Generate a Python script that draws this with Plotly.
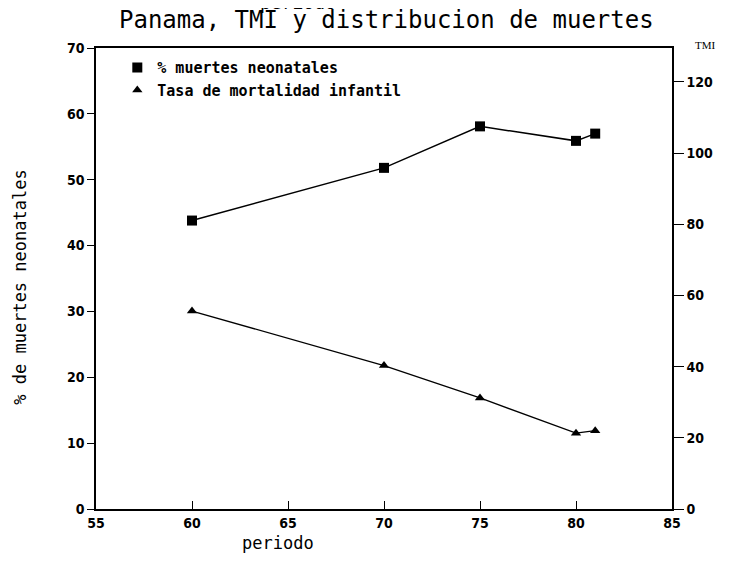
"""Panama: infant mortality rate and share of neonatal deaths."""

import plotly.graph_objects as go

periodo = [60, 70, 75, 80, 81]
neonatales = [43.8, 51.8, 58.1, 55.9, 57.0]   # % muertes neonatales (left axis)
tmi = [55.6, 40.3, 31.2, 21.3, 22.0]          # tasa de mortalidad infantil (right axis)

x_ticks = [55, 60, 65, 70, 75, 80, 85]
tmi_ticks = [0, 20, 40, 60, 80, 100, 120]

mono = "DejaVu Sans Mono"
narrow = "DejaVu Sans Condensed, Liberation Sans Narrow"
tick_font = dict(family=narrow, size=14, color="black", weight="bold")

fig = go.Figure()

# lines (no legend) + markers (legend only shows the symbol)
fig.add_trace(go.Scatter(x=periodo, y=neonatales, mode="lines", showlegend=False,
                         line=dict(color="black", width=1.5)))
fig.add_trace(go.Scatter(x=periodo, y=neonatales, mode="markers",
                         name="% muertes neonatales",
                         marker=dict(symbol="square", size=10, color="black")))
fig.add_trace(go.Scatter(x=periodo, y=tmi, mode="lines", yaxis="y2", showlegend=False,
                         line=dict(color="black", width=1.3)))
fig.add_trace(go.Scatter(x=periodo, y=tmi, mode="markers", yaxis="y2",
                         name="Tasa de mortalidad infantil",
                         marker=dict(symbol="triangle-up", size=9, color="black")))

# the page is shown with an 8px body margin, so margins are shifted by 8
fig.update_layout(
    width=734, height=563,
    margin=dict(l=88, r=70, t=40, b=62),
    plot_bgcolor="white", paper_bgcolor="white",
    showlegend=True,
    legend=dict(x=0.037, y=0.993, xanchor="left", yanchor="top",
                bgcolor="rgba(0,0,0,0)", borderwidth=0,
                font=dict(family=mono, size=15, color="black", weight="bold"),
                itemwidth=30, tracegroupgap=0),
    xaxis=dict(range=[55, 85], tickvals=x_ticks, ticks="inside", ticklen=8,
               tickcolor="black", showline=True, linecolor="black", linewidth=1.5,
               mirror=True, showgrid=False, zeroline=False, tickfont=tick_font),
    yaxis=dict(range=[0, 70], dtick=10, ticks="outside", ticklen=7,
               tickcolor="black", showline=True, linecolor="black", linewidth=1.5,
               showgrid=False, zeroline=False, tickfont=tick_font),
    yaxis2=dict(range=[0, 129.5], tickvals=tmi_ticks,
                overlaying="y", side="right", ticks="outside", ticklen=10,
                tickcolor="black", showline=True, linecolor="black", linewidth=1.5,
                showgrid=False, zeroline=False, tickfont=tick_font),
)

# titles placed by hand, as in the scanned original
fig.add_annotation(text="Panama, TMI y distribucion de muertes", xref="paper", yref="paper",
                   x=0.505, y=1.0, yshift=28, xanchor="center", yanchor="middle",
                   showarrow=False, font=dict(family=mono, size=24, color="black"))
fig.add_annotation(text="periodo", xref="paper", yref="paper",
                   x=0.351, y=1.0, yshift=46, xanchor="center", yanchor="middle",
                   showarrow=False, font=dict(family=mono, size=18, color="black"))
fig.add_annotation(text="periodo", xref="paper", yref="paper",
                   x=0.316, y=0, yshift=-34, xanchor="center", yanchor="middle",
                   showarrow=False, font=dict(family=mono, size=17, color="black"))
fig.add_annotation(text="% de muertes neonatales", xref="paper", yref="paper",
                   x=0, xshift=-76, y=0.48, xanchor="center", yanchor="middle",
                   textangle=-90, showarrow=False,
                   font=dict(family=mono, size=17, color="black"))
fig.add_annotation(text="TMI", xref="paper", yref="paper",
                   x=1.0, xshift=33, y=1.0, yshift=3, xanchor="center", yanchor="middle",
                   showarrow=False, font=dict(family="Liberation Serif", size=11, color="black"))

fig.write_html("out.html")
